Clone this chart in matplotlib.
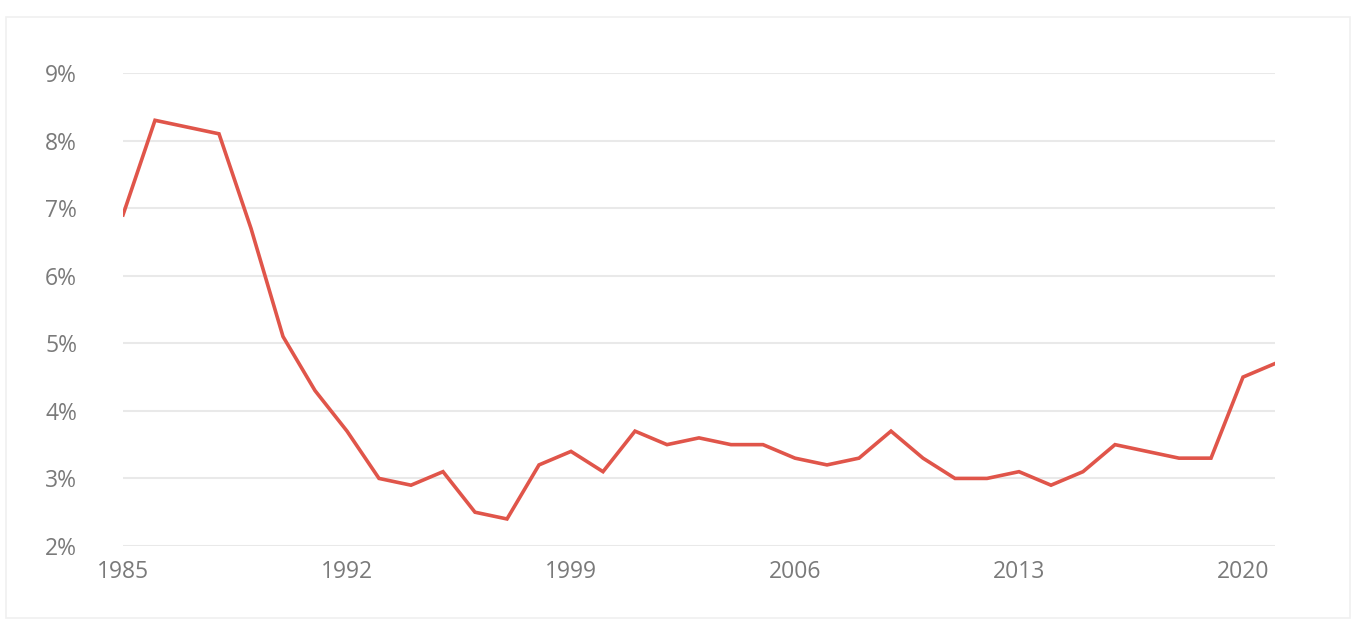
import matplotlib
matplotlib.use("Agg")
import matplotlib.pyplot as plt
from matplotlib.patches import Rectangle

years = list(range(1985, 2022))
values = [6.9, 8.3, 8.2, 8.1, 6.7, 5.1, 4.3, 3.7, 3.0, 2.9, 3.1, 2.5, 2.4,
          3.2, 3.4, 3.1, 3.7, 3.5, 3.6, 3.5, 3.5, 3.3, 3.2, 3.3, 3.7, 3.3,
          3.0, 3.0, 3.1, 2.9, 3.1, 3.5, 3.4, 3.3, 3.3, 4.5, 4.7]
x_ticks = [1985, 1992, 1999, 2006, 2013, 2020]
y_ticks = [2, 3, 4, 5, 6, 7, 8, 9]
y_labels = [f"{v}%" for v in y_ticks]

plt.rcParams['font.family'] = ['Open Sans', 'DejaVu Sans']

W, H = 1354, 619
fig = plt.figure(figsize=(W / 100, H / 100), dpi=100)
fig.patch.set_facecolor('white')
fig.add_artist(Rectangle((6 / W, 1 - 618 / H), (W - 10) / W, (618 - 17) / H,
                         transform=fig.transFigure, fill=False,
                         edgecolor='#f0f0f0', linewidth=1.2))

ax = fig.add_axes([123 / W, 1 - 546 / H, (1275 - 123) / W, (546 - 73) / H])
ax.plot(years, values, color='#e0554a', linewidth=2.6, solid_joinstyle='miter',
        zorder=3)
ax.set_xlim(1985, 2021)
ax.set_ylim(2, 9)
ax.set_yticks(y_ticks)
ax.set_yticklabels(y_labels)
ax.set_xticks(x_ticks)
ax.set_xticklabels([str(t) for t in x_ticks])
ax.grid(axis='y', color='#e9e9e9', linewidth=1.5)
ax.set_axisbelow(True)
for s in ax.spines.values():
    s.set_visible(False)
ax.tick_params(axis='both', length=0, colors='#7a7a7a', labelsize=16.5)
ax.tick_params(axis='y', pad=33)
ax.tick_params(axis='x', pad=10)
for lab in ax.get_yticklabels():
    lab.set_horizontalalignment('right')

fig.savefig('out.png', dpi=100, facecolor='white')
